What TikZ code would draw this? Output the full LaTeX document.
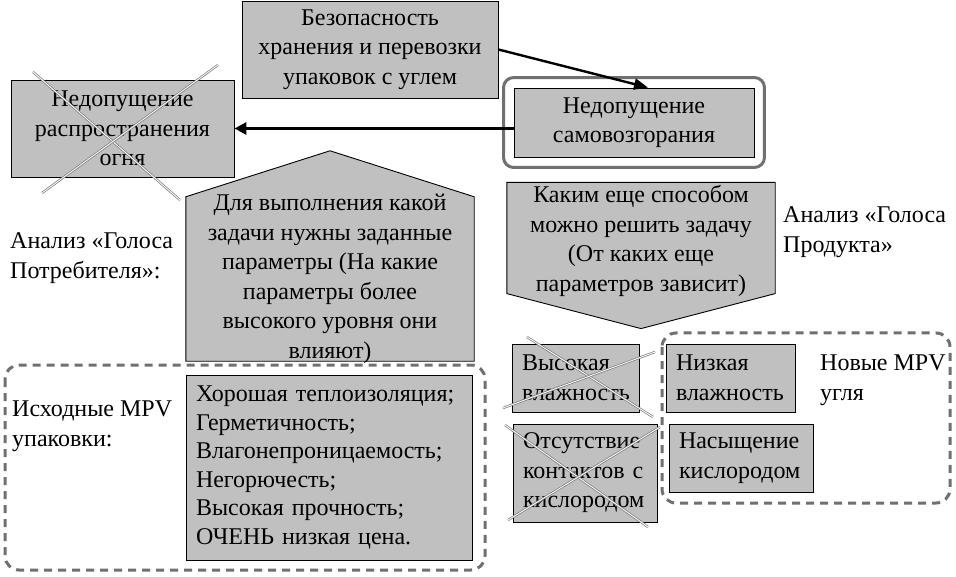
\documentclass[tikz,border=0pt]{standalone}
\usepackage{fontspec}
\setmainfont{Liberation Serif}
\usetikzlibrary{arrows.meta,fit,backgrounds}
\definecolor{boxgray}{RGB}{192,192,192}
\definecolor{framegray}{RGB}{112,112,112}
\definecolor{crossgray}{RGB}{120,120,120}

\begin{document}
\begin{tikzpicture}[x=1pt,y=-1pt,
        every node/.style={font=\fontsize{24}{29.5}\selectfont},
        box/.style={draw=black, line width=0.9pt, fill=boxgray, align=center},
        lbox/.style={draw=black, line width=0.9pt, fill=boxgray, align=left},
        shapebox/.style={draw=black, line width=0.9pt, fill=boxgray},
        label/.style={anchor=west, align=left},
        selfframe/.style={draw=framegray, line width=3pt, rounded corners=10pt},
        dashframe/.style={draw=framegray, line width=3pt, rounded corners=14pt, dash pattern=on 8pt off 6pt},
        crossout/.style={draw=crossgray, double=white, double distance=0.9pt, line width=0.7pt},
        thinarrow/.style={line width=2.4pt, -{Triangle[length=14pt, width=11pt]}},
        thickarrow/.style={line width=3.4pt, -{Triangle[length=12pt, width=12pt]}}]
        \tikzstyle{every node}+=[inner sep=0pt]
        \useasboundingbox (0,0) rectangle (956,577);
        \draw [dashframe] (5,365) rectangle (485,570);
        \draw [dashframe] (662,333) rectangle (950,503);
        \node [box, minimum width=256, minimum height=97] (safe) at (370,49.5) {Безопасность\\хранения и перевозки\\упаковок с углем};
        \node [box, minimum width=240, minimum height=69] (selfign) at (634,122.5) {Недопущение\\самовозгорания};
        \node [selfframe, fit=(selfign), inner sep=10pt] (selfignframe) {};
        \node [box, minimum width=223, minimum height=97] (spread) at (122.5,128.5) {Недопущение\\распространения\\огня};
        \node [minimum width=288, minimum height=167, align=center] (task) at (330,279) {Для выполнения какой\\задачи нужны заданные\\параметры (На какие\\параметры более\\высокого уровня они\\влияют)};
        \node [minimum width=268, minimum height=110, align=center] (otherway) at (641,241) {Каким еще способом\\можно решить задачу\\(От каких еще\\параметров зависит)};
        \begin{scope}[on background layer]
        \draw [shapebox] ([yshift=-2.5pt]task.north west) -- ([yshift=2.5pt]task.south west) -- ([yshift=2.5pt]task.south east) -- ([yshift=-2.5pt]task.north east) -- ([yshift=43.5pt]task.north) -- cycle;
        \draw [shapebox] ([yshift=3pt]otherway.north west) -- ([yshift=3pt]otherway.north east) -- ([yshift=3pt]otherway.south east) -- ([yshift=-32pt]otherway.south) -- ([yshift=3pt]otherway.south west) -- cycle;
        \end{scope}
        \node [label] (consumer) at (10,258) {Анализ «Голоса\\Потребителя»:};
        \node [label] (product) at (783,232) {Анализ «Голоса\\Продукта»};
        \node [label] (initial) at (12,426) {Исходные MPV\\упаковки:};
        \node [lbox, minimum width=286, minimum height=185, text width=266, font=\fontsize{24}{28.5}\selectfont] (params) at (329,467.5) {Хорошая теплоизоляция;\\Герметичность;\\Влагонепроницаемость;\\Негорючесть;\\Высокая прочность;\\ОЧЕНЬ низкая цена.};
        \node [lbox, minimum width=127, minimum height=68, text width=107] (highhum) at (575.5,378) {Высокая\\влажность};
        \node [lbox, minimum width=144, minimum height=98, text width=124] (nocontact) at (585,473) {Отсутствие\\контактов с\\кислородом};
        \node [lbox, minimum width=129, minimum height=68, text width=109] (lowhum) at (730.5,378) {Низкая\\влажность};
        \node [lbox, minimum width=144, minimum height=68, text width=124] (oxygen) at (741,458) {Насыщение\\кислородом};
        \node [label] (newmpv) at (820,380) {Новые MPV\\угля};
        \draw [thinarrow] (safe.east) -- ([xshift=14pt]selfign.north);
        \draw [thickarrow] (selfign.west |- spread.east) -- (spread.east);
        \draw [crossout] (33,72) -- (180,200);
        \draw [crossout] (218,65) -- (42,193);
        \draw [crossout] (527,337) -- (653,417);
        \draw [crossout] (503,408) -- (655,352);
        \draw [crossout] (505,425) -- (648,527);
        \draw [crossout] (508,520) -- (660,427);
\end{tikzpicture}
\end{document}
